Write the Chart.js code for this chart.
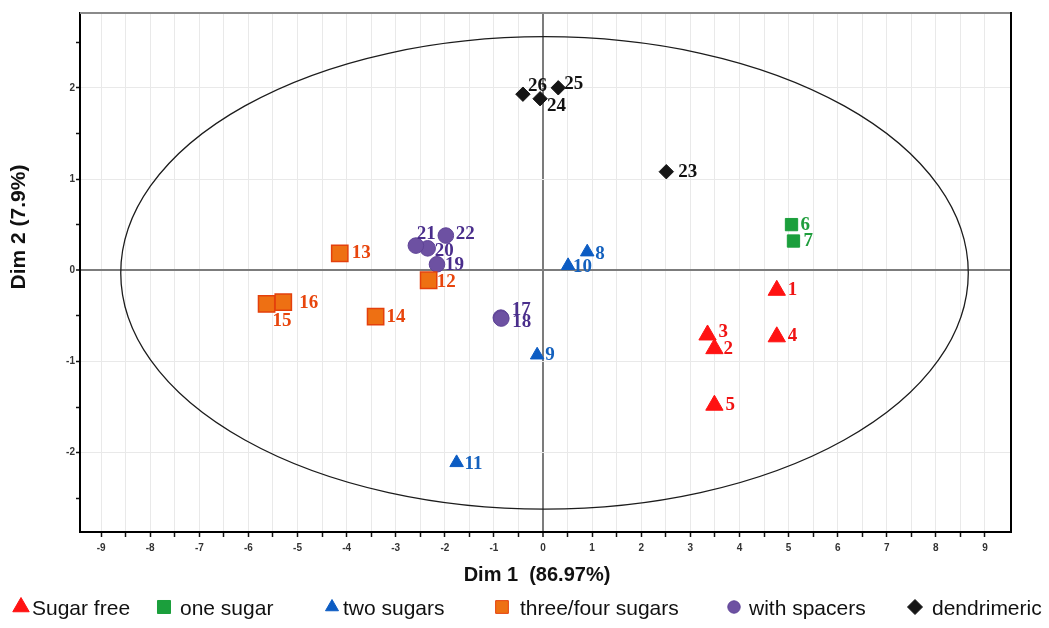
<!DOCTYPE html>
<html>
<head>
<meta charset="utf-8">
<script src="https://cdn.jsdelivr.net/npm/chart.js@4.4.1/dist/chart.umd.min.js"></script>
<style>
html,body{margin:0;padding:0;background:#fff;}
canvas{display:block;}
</style>
</head>
<body>
<canvas id="c" width="1049" height="628"></canvas>
<script>
// ---------------- data ----------------
const sugarFreeIds = [1, 2, 3, 4, 5];
const sugarFreeX   = [4.76, 3.49, 3.35, 4.76, 3.49];
const sugarFreeY   = [-0.22, -0.86, -0.71, -0.73, -1.48];

const oneSugarIds = [6, 7];
const oneSugarX   = [5.06, 5.10];
const oneSugarY   = [0.50, 0.32];

const twoSugarsIds = [8, 9, 10, 11];
const twoSugarsX   = [0.90, -0.12, 0.51, -1.76];
const twoSugarsY   = [0.20, -0.93, 0.05, -2.11];

const threeFourIds = [12, 13, 14, 15, 16];
const threeFourX   = [-2.33, -4.14, -3.41, -5.63, -5.29];
const threeFourY   = [-0.11, 0.185, -0.51, -0.37, -0.35];

const spacersIds = [17, 18, 19, 20, 21, 22];
const spacersX   = [-0.86, -0.85, -2.16, -2.35, -2.59, -1.98];
const spacersY   = [-0.52, -0.53, 0.065, 0.24, 0.27, 0.38];

const dendrimericIds = [23, 24, 25, 26];
const dendrimericX   = [2.51, -0.06, 0.31, -0.41];
const dendrimericY   = [1.08, 1.88, 2.00, 1.93];

const seriesNames = ['Sugar free', 'one sugar', 'two sugars', 'three/four sugars', 'with spacers', 'dendrimeric'];

const xTickLabels = ['-9','-8','-7','-6','-5','-4','-3','-2','-1','0','1','2','3','4','5','6','7','8','9'];
const yTickLabels = ['-2','-1','0','1','2'];

const xAxisTitle = 'Dim 1  (86.97%)';
const yAxisTitle = 'Dim 2 (7.9%)';

// confidence ellipse (data units)
const ellipseCenter = [0.03, -0.03];
const ellipseRadii  = [8.63, 2.59];

// ---------------- styling (positions / sizes kept apart from data) ----------------
const labelOffsets = {
  sugarFree:   [[11,0],[9,0],[11,-3],[11,-1],[11,0]],
  oneSugar:    [[9,0],[10,0]],
  twoSugars:   [[8,2],[8,0],[5,1],[8,1]],
  threeFour:   [[8,2],[12,0],[11,0],[6,17],[16,1]],
  spacers:     [[11,-8],[11,4],[8,1],[7,3],[1,-11],[10,-1]],
  dendrimeric: [[12,0],[7,7],[6,-4],[5,-8]]
};
const legendMarkerX = [21, 164, 332, 502, 734, 915];
const legendTextX   = [32, 180, 343, 520, 749, 932];
const legendMarkerR = [9.5, 9.2, 7.5, 9, 6.2, 7.5];

function pts(xs, ys) { return xs.map((x, i) => ({x: x, y: ys[i]})); }

const datasets = [
  {label: seriesNames[0], data: pts(sugarFreeX, sugarFreeY), ids: sugarFreeIds, offs: labelOffsets.sugarFree,
   pointStyle: 'triangle', pointRadius: 10, backgroundColor: '#ff1212', borderColor: '#ff1212', borderWidth: 1, labelColor: '#f01414'},
  {label: seriesNames[1], data: pts(oneSugarX, oneSugarY), ids: oneSugarIds, offs: labelOffsets.oneSugar,
   pointStyle: 'rect', pointRadius: 8.7, backgroundColor: '#1b9f3c', borderColor: '#1b9f3c', borderWidth: 1, labelColor: '#1f9d3c'},
  {label: seriesNames[2], data: pts(twoSugarsX, twoSugarsY), ids: twoSugarsIds, offs: labelOffsets.twoSugars,
   pointStyle: 'triangle', pointRadius: 7.8, backgroundColor: '#0c5cc3', borderColor: '#0c5cc3', borderWidth: 1, labelColor: '#1461be'},
  {label: seriesNames[3], data: pts(threeFourX, threeFourY), ids: threeFourIds, offs: labelOffsets.threeFour,
   pointStyle: 'rect', pointRadius: 11.5, backgroundColor: '#ee7013', borderColor: '#e4400c', borderWidth: 1.5, labelColor: '#e8450c'},
  {label: seriesNames[4], data: pts(spacersX, spacersY), ids: spacersIds, offs: labelOffsets.spacers,
   pointStyle: 'circle', pointRadius: 7.8, backgroundColor: '#6d51a2', borderColor: '#5e4396', borderWidth: 1, labelColor: '#4a2e8c'},
  {label: seriesNames[5], data: pts(dendrimericX, dendrimericY), ids: dendrimericIds, offs: labelOffsets.dendrimeric,
   pointStyle: 'rectRot', pointRadius: 7.2, backgroundColor: '#151515', borderColor: '#151515', borderWidth: 1, labelColor: '#111111'}
];

function halfSteps(from, to) { const a = []; for (let v = from; v <= to + 1e-9; v += 0.5) a.push({value: Math.round(v * 10) / 10}); return a; }

// ---------------- plugins ----------------
const ellipseAndFrame = {
  id: 'ellipseAndFrame',
  beforeDatasetsDraw(chart) {
    const {ctx, chartArea: ca, scales} = chart;
    const sx = scales.x, sy = scales.y;
    const cx = sx.getPixelForValue(ellipseCenter[0]);
    const cy = sy.getPixelForValue(ellipseCenter[1]);
    const rx = Math.abs(sx.getPixelForValue(ellipseCenter[0] + ellipseRadii[0]) - cx);
    const ry = Math.abs(sy.getPixelForValue(ellipseCenter[1] + ellipseRadii[1]) - cy);
    ctx.save();
    ctx.beginPath();
    ctx.ellipse(cx, cy, rx, ry, 0, 0, Math.PI * 2);
    ctx.strokeStyle = '#1c1c1c';
    ctx.lineWidth = 1.3;
    ctx.stroke();
    // top and right frame
    ctx.beginPath();
    ctx.moveTo(ca.left, ca.top);
    ctx.lineTo(ca.right, ca.top);
    ctx.strokeStyle = '#8a8a8a';
    ctx.lineWidth = 2;
    ctx.stroke();
    ctx.beginPath();
    ctx.moveTo(ca.right, ca.top - 1);
    ctx.lineTo(ca.right, ca.bottom);
    ctx.strokeStyle = '#000';
    ctx.lineWidth = 2;
    ctx.stroke();
    ctx.restore();
  }
};

const pointLabels = {
  id: 'pointLabels',
  afterDatasetsDraw(chart) {
    const ctx = chart.ctx;
    ctx.save();
    ctx.font = 'bold 19px "Liberation Serif", "Times New Roman", serif';
    ctx.textAlign = 'left';
    ctx.textBaseline = 'middle';
    chart.data.datasets.forEach((ds, di) => {
      const meta = chart.getDatasetMeta(di);
      meta.data.forEach((el, i) => {
        const o = ds.offs[i] || [10, 0];
        ctx.fillStyle = ds.labelColor;
        ctx.fillText(String(ds.ids[i]), el.x + o[0], el.y + o[1]);
      });
    });
    ctx.restore();
  }
};

const titlesAndLegend = {
  id: 'titlesAndLegend',
  afterDraw(chart) {
    const ctx = chart.ctx;
    ctx.save();
    // axis titles
    ctx.fillStyle = '#111';
    ctx.font = 'bold 20px "Liberation Sans", Arial, sans-serif';
    ctx.textAlign = 'center';
    ctx.textBaseline = 'middle';
    ctx.fillText(xAxisTitle, 537, 575);
    ctx.save();
    ctx.translate(19, 227);
    ctx.rotate(-Math.PI / 2);
    ctx.font = 'bold 21px "Liberation Sans", Arial, sans-serif';
    ctx.fillText(yAxisTitle, 0, 0);
    ctx.restore();
    // legend built from the datasets
    chart.data.datasets.forEach((ds, i) => {
      ctx.fillStyle = ds.backgroundColor;
      ctx.strokeStyle = ds.borderColor;
      ctx.lineWidth = 1;
      Chart.helpers.drawPoint(ctx, {pointStyle: ds.pointStyle, radius: legendMarkerR[i], rotation: 0, borderWidth: 1}, legendMarkerX[i], 607);
      ctx.fillStyle = '#111';
      ctx.font = '21px "Liberation Sans", Arial, sans-serif';
      ctx.textAlign = 'left';
      ctx.textBaseline = 'alphabetic';
      ctx.fillText(ds.label, legendTextX[i], 615);
    });
    ctx.restore();
  }
};

// ---------------- chart ----------------
const gridLight = '#e9e9e9';
const zeroLine = '#7c7c7c';

new Chart(document.getElementById('c'), {
  type: 'scatter',
  data: {datasets: datasets},
  options: {
    responsive: false,
    animation: false,
    devicePixelRatio: 1,
    events: [],
    layout: {padding: {left: 0, right: 38, top: 9, bottom: 0}},
    plugins: {legend: {display: false}, tooltip: {enabled: false}},
    scales: {
      x: {
        type: 'linear', position: 'bottom', min: -9.43, max: 9.53,
        afterBuildTicks: (axis) => { axis.ticks = halfSteps(-9, 9); },
        afterFit: (axis) => { axis.height = 96; },
        ticks: {
          autoSkip: false, maxRotation: 0, padding: 5,
          color: '#333', font: {family: '"Liberation Sans", Arial, sans-serif', size: 10, weight: 'bold'},
          callback: (v) => xTickLabels.includes(String(v)) ? String(v) : ''
        },
        grid: {
          color: (c) => (c.tick && c.tick.value === 0) ? zeroLine : gridLight,
          lineWidth: (c) => (c.tick && c.tick.value === 0) ? 2 : 1,
          tickColor: '#111', tickLength: 5, tickWidth: 1.5
        },
        border: {display: true, color: '#000', width: 2}
      },
      y: {
        type: 'linear', position: 'left', min: -2.87, max: 2.82,
        afterBuildTicks: (axis) => { axis.ticks = halfSteps(-2.5, 2.5); },
        afterFit: (axis) => { axis.width = 80; },
        ticks: {
          autoSkip: false, padding: 1,
          color: '#333', font: {family: '"Liberation Sans", Arial, sans-serif', size: 10, weight: 'bold'},
          callback: (v) => yTickLabels.includes(String(v)) ? String(v) : ''
        },
        grid: {
          color: (c) => {
            if (!c.tick) return gridLight;
            if (c.tick.value === 0) return zeroLine;
            return Number.isInteger(c.tick.value) ? gridLight : 'rgba(0,0,0,0)';
          },
          lineWidth: (c) => (c.tick && c.tick.value === 0) ? 2 : 1,
          tickColor: '#111', tickLength: 4, tickWidth: 1.5
        },
        border: {display: true, color: '#000', width: 2}
      }
    }
  },
  plugins: [ellipseAndFrame, pointLabels, titlesAndLegend]
});
</script>
</body>
</html>
